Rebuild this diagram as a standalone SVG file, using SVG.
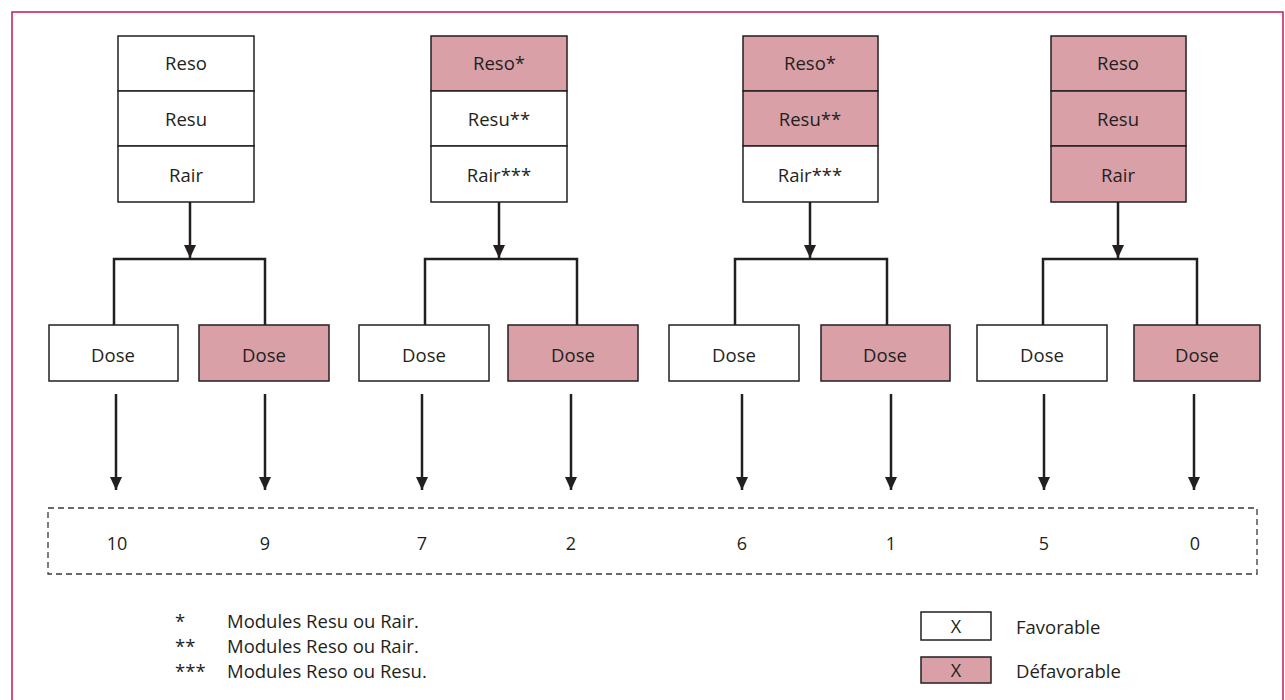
<svg xmlns="http://www.w3.org/2000/svg" width="1285" height="700" viewBox="0 0 1285 700">
<style>
text{font-family:"Open Sans",Lato,"Liberation Sans",sans-serif;fill:#231f20}
.t{font-size:18.5px;text-anchor:middle}
.n{font-size:18px;text-anchor:middle}
.f{font-size:18.5px}
.w{fill:#fff;stroke:#231f20;stroke-width:1.5}
.p{fill:#d9a0a8;stroke:#231f20;stroke-width:1.5}
.c{fill:none;stroke:#231f20;stroke-width:2.5}
</style>
<defs>
<marker id="ah" markerUnits="userSpaceOnUse" markerWidth="14" markerHeight="12" refX="13" refY="6" orient="auto">
<path d="M0,0 L13,6 L0,12 Z" fill="#231f20"/>
</marker>
</defs>
<rect x="12" y="12" width="1271" height="700" fill="none" stroke="#c2185b" stroke-width="1.5"/>

<g id="stack1">
<rect class="w" x="118" y="36" width="136" height="55"/><text class="t" x="186" y="70">Reso</text>
<rect class="w" x="118" y="91" width="136" height="55"/><text class="t" x="186" y="126">Resu</text>
<rect class="w" x="118" y="146" width="136" height="56"/><text class="t" x="186" y="182">Rair</text>
</g>
<g id="stack2">
<rect class="p" x="431" y="36" width="136" height="55"/><text class="t" x="499" y="70">Reso*</text>
<rect class="w" x="431" y="91" width="136" height="55"/><text class="t" x="499" y="126">Resu**</text>
<rect class="w" x="431" y="146" width="136" height="56"/><text class="t" x="499" y="182">Rair***</text>
</g>
<g id="stack3">
<rect class="p" x="743" y="36" width="135" height="55"/><text class="t" x="810" y="70">Reso*</text>
<rect class="p" x="743" y="91" width="135" height="55"/><text class="t" x="810" y="126">Resu**</text>
<rect class="w" x="743" y="146" width="135" height="56"/><text class="t" x="810" y="182">Rair***</text>
</g>
<g id="stack4">
<rect class="p" x="1051" y="36" width="135" height="55"/><text class="t" x="1118" y="70">Reso</text>
<rect class="p" x="1051" y="91" width="135" height="55"/><text class="t" x="1118" y="126">Resu</text>
<rect class="p" x="1051" y="146" width="135" height="56"/><text class="t" x="1118" y="182">Rair</text>
</g>

<g id="dose1a"><rect class="w" x="49" y="325" width="129" height="56"/><text class="t" x="113" y="362">Dose</text></g>
<g id="dose1b"><rect class="p" x="199" y="325" width="130" height="56"/><text class="t" x="264" y="362">Dose</text></g>
<g id="dose2a"><rect class="w" x="359" y="325" width="130" height="56"/><text class="t" x="424" y="362">Dose</text></g>
<g id="dose2b"><rect class="p" x="508" y="325" width="130" height="56"/><text class="t" x="573" y="362">Dose</text></g>
<g id="dose3a"><rect class="w" x="669" y="325" width="130" height="56"/><text class="t" x="734" y="362">Dose</text></g>
<g id="dose3b"><rect class="p" x="821" y="325" width="129" height="56"/><text class="t" x="885" y="362">Dose</text></g>
<g id="dose4a"><rect class="w" x="977" y="325" width="130" height="56"/><text class="t" x="1042" y="362">Dose</text></g>
<g id="dose4b"><rect class="p" x="1134" y="325" width="126" height="56"/><text class="t" x="1197" y="362">Dose</text></g>

<g id="results">
<rect x="48" y="508" width="1209" height="66" fill="none" stroke="#3a3a3a" stroke-width="1.3" stroke-dasharray="6 4"/>
<text class="n" x="117" y="550">10</text>
<text class="n" x="265" y="550">9</text>
<text class="n" x="422" y="550">7</text>
<text class="n" x="571" y="550">2</text>
<text class="n" x="742" y="550">6</text>
<text class="n" x="891" y="550">1</text>
<text class="n" x="1044" y="550">5</text>
<text class="n" x="1195" y="550">0</text>
</g>

<g id="connectors">
<line class="c" x1="190" y1="202" x2="190" y2="258" marker-end="url(#ah)"/>
<polyline class="c" points="114,325 114,259 265,259 265,325"/>
<line class="c" x1="499" y1="202" x2="499" y2="258" marker-end="url(#ah)"/>
<polyline class="c" points="425,325 425,259 577,259 577,325"/>
<line class="c" x1="810" y1="202" x2="810" y2="258" marker-end="url(#ah)"/>
<polyline class="c" points="735,325 735,259 887,259 887,325"/>
<line class="c" x1="1118" y1="202" x2="1118" y2="258" marker-end="url(#ah)"/>
<polyline class="c" points="1043,325 1043,259 1197,259 1197,325"/>
<line class="c" x1="116" y1="394" x2="116" y2="490" marker-end="url(#ah)"/>
<line class="c" x1="265" y1="394" x2="265" y2="490" marker-end="url(#ah)"/>
<line class="c" x1="422" y1="394" x2="422" y2="490" marker-end="url(#ah)"/>
<line class="c" x1="571" y1="394" x2="571" y2="490" marker-end="url(#ah)"/>
<line class="c" x1="742" y1="394" x2="742" y2="490" marker-end="url(#ah)"/>
<line class="c" x1="891" y1="394" x2="891" y2="490" marker-end="url(#ah)"/>
<line class="c" x1="1044" y1="394" x2="1044" y2="490" marker-end="url(#ah)"/>
<line class="c" x1="1194" y1="394" x2="1194" y2="490" marker-end="url(#ah)"/>
</g>

<g id="footnotes">
<text class="f" x="175" y="628">*</text><text class="f" x="227" y="628">Modules Resu ou Rair.</text>
<text class="f" x="175" y="653">**</text><text class="f" x="227" y="653">Modules Reso ou Rair.</text>
<text class="f" x="175" y="678">***</text><text class="f" x="227" y="678">Modules Reso ou Resu.</text>
</g>

<g id="legend">
<rect class="w" x="921" y="612" width="70" height="28"/><text class="n" x="956" y="633">X</text>
<text class="f" x="1016" y="634">Favorable</text>
<rect class="p" x="921" y="657" width="70" height="26"/><text class="n" x="956" y="677">X</text>
<text class="f" x="1016" y="678">Défavorable</text>
</g>
</svg>
